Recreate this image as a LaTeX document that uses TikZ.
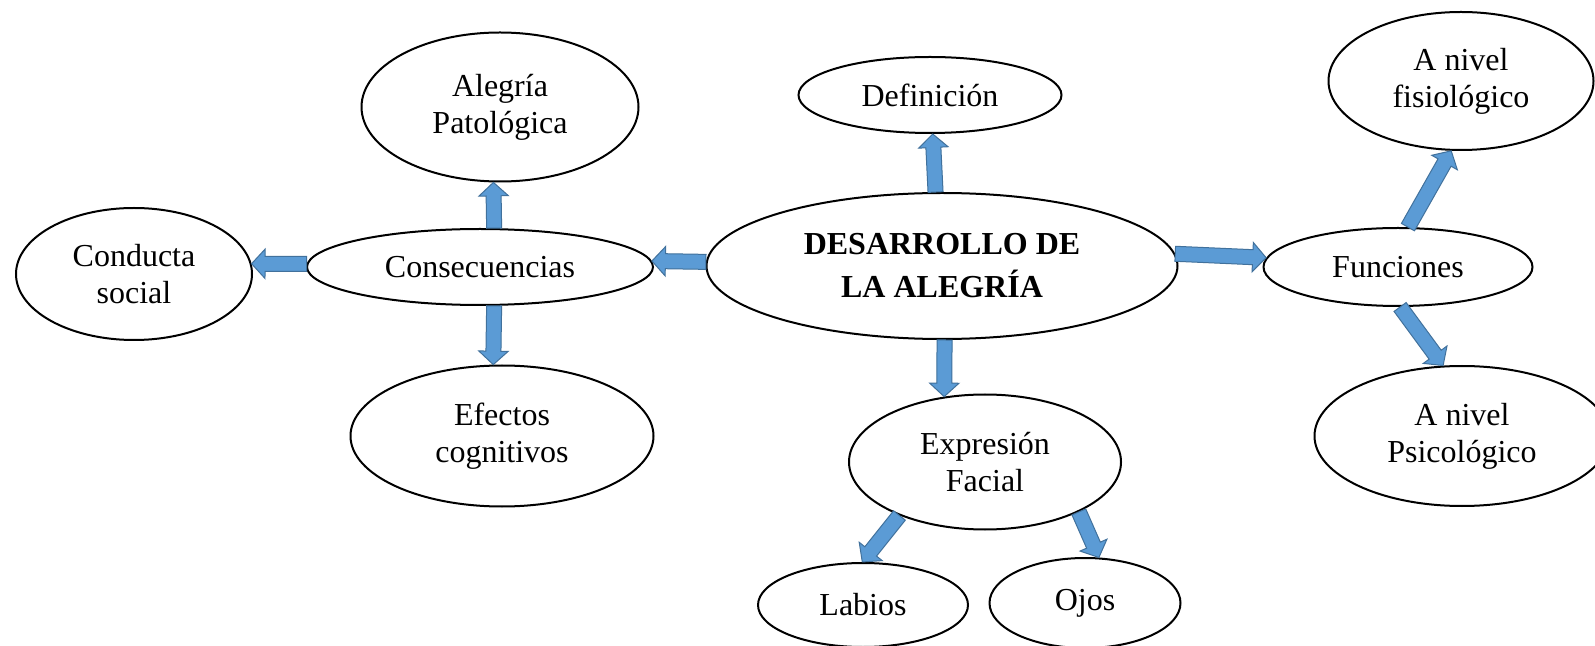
\documentclass[tikz,border=0pt]{standalone}
\usepackage{fontspec}
\setmainfont{Liberation Serif}
\usetikzlibrary{shapes,shapes.arrows,calc}
\definecolor{arrowblue}{HTML}{5B9BD5}
\definecolor{arrowedge}{HTML}{41719C}
\tikzstyle{topic}=[ellipse,draw,line width=1pt,inner sep=0pt,align=center,font=\fontsize{16}{18.5}\selectfont]
\tikzstyle{maintopic}=[topic,font=\bfseries\fontsize{16}{21.5}\selectfont]
\tikzstyle{blockarrow}=[single arrow,draw=arrowedge,fill=arrowblue,line width=0.5pt,inner xsep=0pt,inner ysep=3.5pt,outer sep=0pt,minimum width=0pt,single arrow head extend=3.6pt,single arrow tip angle=95,anchor=tail]

\begin{document}
\begin{tikzpicture}[x=0.5pt,y=-0.5pt]
    \fill[white] (0,0) rectangle (1595,646);
    \useasboundingbox (0,0) rectangle (1595,646);

    \node[maintopic,minimum width=235.5pt,minimum height=73pt] (desarrollo) at (942,266) {DESARROLLO DE\\LA ALEGRÍA};

    \foreach \pos/\name/\w/\h/\txt in {{(500,107)/alegria/277/149/{Alegría\\Patológica}}, {(930,95)/definicion/263/76/{Definición}},
        {(1461,81)/fisio/265/138/{A nivel\\fisiológico}}, {(134,274)/conducta/236/132/{Conducta\\social}},
        {(480,267)/consec/346/76/{Consecuencias}}, {(1398,267)/funciones/269/78/{Funciones}},
        {(502,436)/efectos/303/141/{Efectos\\cognitivos}}, {(985,462)/expresion/272/135/{Expresión\\Facial}},
        {(1462,436)/psico/295/140/{A nivel\\Psicológico}}, {(863,605)/labios/210/84/{Labios}}, {(1085,603)/ojos/191/90/{Ojos}}}
        \node[topic,minimum width=\w*0.5pt,minimum height=\h*0.5pt] (\name) at \pos {\txt};

    % block arrows from border angle to border angle
    \foreach \source/\sa/\dest/\da in {consec/70/alegria/265, consec/179/conducta/5, consec/290/efectos/97, desarrollo/179/consec/2,
        desarrollo/95/definicion/274, desarrollo/272/expresion/122, desarrollo/3/funciones/176, funciones/76/fisio/262,
        funciones/273/psico/105, expresion/212/labios/91, expresion/332/ojos/73}
        \path let \p1=(\source.\sa), \p2=(\dest.\da), \n1={atan2(\y2-\y1,\x2-\x1)}, \n2={veclen(\x2-\x1,\y2-\y1)} in
            node[blockarrow,rotate=\n1,minimum height=\n2] at (\p1) {};
\end{tikzpicture}
\end{document}
